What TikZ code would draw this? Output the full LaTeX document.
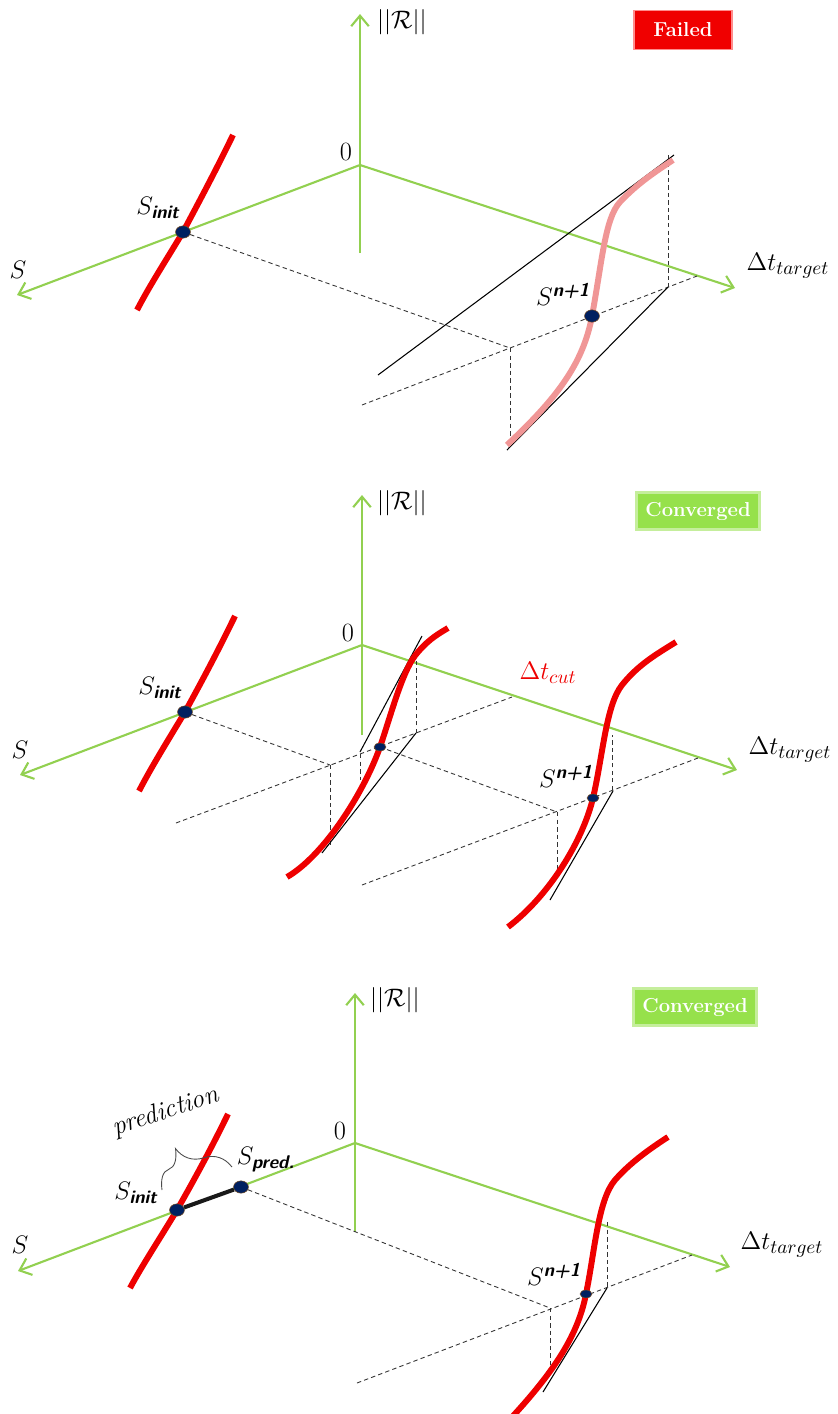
\documentclass[tikz,border=0pt]{standalone}
\usepackage{tikz}
\usetikzlibrary{positioning,shapes.geometric,arrows.meta,decorations.pathreplacing}
\usepackage{amsmath}
\definecolor{axisgreen}{RGB}{146,208,80}
\definecolor{curvered}{RGB}{238,0,0}
\definecolor{curvepink}{RGB}{240,150,150}
\definecolor{dotblue}{RGB}{0,32,96}
\definecolor{failred}{RGB}{240,0,0}
\definecolor{convgreen}{RGB}{150,225,75}

\newcommand{\subtxt}[1]{\text{\sffamily\bfseries\itshape #1}}

\begin{document}
\begin{tikzpicture}[x=0.02cm, y=-0.02cm,
    axis/.style={draw=axisgreen, line width=1.2pt, -{Straight Barb[length=6pt,width=10pt]}},
    curve/.style={draw=curvered, line width=3.4pt},
    dashline/.style={draw=black!80, line width=0.5pt, dash pattern=on 2.5pt off 1.8pt},
    tline/.style={draw=black, line width=0.6pt},
    dot/.style={ellipse, fill=dotblue, draw=brown!60!black, line width=0.3pt, minimum width=8.5pt, minimum height=7pt, inner sep=0pt},
    smalldot/.style={dot, minimum width=6.8pt, minimum height=4.5pt},
    lbl/.style={font=\fontsize{15}{17}\selectfont, inner sep=1pt},
    failbox/.style={fill=failred, draw=red!45, line width=0.8pt, minimum width=56pt, minimum height=22pt, text=white, font=\fontsize{11.5}{13}\selectfont\bfseries},
    convbox/.style={fill=convgreen, draw=convgreen!55, line width=1.6pt, minimum width=70pt, minimum height=21pt, text=white, font=\fontsize{11.5}{13}\selectfont\bfseries}]
    \useasboundingbox (0,0) rectangle (838,1414);

    % ---------- top panel: failed step ----------
    \coordinate (aO) at (360,165);
    \coordinate (aP) at (510,348);
    \coordinate (aQ) at (668,287);
    \draw[axis] (360,253) -- (360,14);
    \draw[axis] (aO) -- (17,295);
    \draw[axis] (aO) -- (735,288);
    \draw[dashline] (183,232) -- (aP);
    \draw[dashline] (362,405) -- (697,276);
    \draw[dashline] (aP) -- (510,445);
    \draw[dashline] (668,155) -- (aQ);
    \draw[tline] (378,375) -- (674,155);
    \draw[tline] (507,450) -- (aQ);
    \draw[curve] (233,135) .. controls (215,172) and (200,200) .. (183,232) .. controls (165,262) and (150,285) .. (137,310);
    \draw[curve, draw=curvepink] (507,445) .. controls (555,400) and (583,365) .. (592,316) .. controls (602,262) and (605,218) .. (620,202) .. controls (638,183) and (655,172) .. (673,160);
    \node[dot] (aInit) at (183,232) {};
    \node[dot] (aNext) at (592,316) {};
    \node[lbl] (aRes) at (402,22) {$||\mathcal{R}||$};
    \node[lbl] (aZero) at (346,152) {0};
    \node[lbl] (aS) at (18,270) {$S$};
    \node[lbl] (aT) at (788,266) {$\Delta t_{target}$};
    \node[lbl] (aInitLab) at (158,208) {$S_{\subtxt{init}}$};
    \node[lbl] (aNextLab) at (563,294) {$S^{\subtxt{n+1}}$};
    \node[failbox] (aState) at (683,30) {Failed};

    % ---------- middle panel: cut step ----------
    \coordinate (bO) at (362,645);
    \coordinate (bP) at (330,765);
    \coordinate (bQ) at (557,812);
    \draw[axis] (362,735) -- (362,495);
    \draw[axis] (bO) -- (20,775);
    \draw[axis] (bO) -- (737,770);
    \draw[dashline] (185,712) -- (bP);
    \draw[dashline] (176,823) -- (512,697);
    \draw[dashline] (380,747) -- (bQ);
    \draw[dashline] (362,885) -- (698,758);
    \draw[dashline] (bP) -- (330,845);
    \draw[dashline] (360,754) -- (360,780);
    \draw[dashline] (416,733) -- (416,660);
    \draw[dashline] (bQ) -- (557,870);
    \draw[dashline] (612,790) -- (612,735);
    \draw[tline] (360,752) -- (422,636);
    \draw[tline] (322,853) -- (416,733);
    \draw[tline] (550,900) -- (613,791);
    \draw[curve] (235,616) .. controls (217,653) and (202,681) .. (185,712) .. controls (167,742) and (152,766) .. (139,791);
    \draw[curve] (287,877) .. controls (325,855) and (365,790) .. (380,747) .. controls (392,712) and (403,668) .. (418,652) .. controls (430,638) and (440,633) .. (448,628);
    \draw[curve] (508,927) .. controls (550,895) and (583,840) .. (593,798) .. controls (603,755) and (606,705) .. (622,685) .. controls (638,665) and (655,655) .. (676,642);
    \node[dot] (bInit) at (185,712) {};
    \node[smalldot] (bCut) at (380,747) {};
    \node[smalldot] (bNext) at (593,798) {};
    \node[lbl] (bRes) at (402,503) {$||\mathcal{R}||$};
    \node[lbl] (bZero) at (348,633) {0};
    \node[lbl] (bS) at (20,750) {$S$};
    \node[lbl] (bT) at (790,750) {$\Delta t_{target}$};
    \node[lbl, text=curvered] (bCutLab) at (548,673) {$\Delta t_{cut}$};
    \node[lbl] (bInitLab) at (160,688) {$S_{\subtxt{init}}$};
    \node[lbl] (bNextLab) at (566,776) {$S^{\subtxt{n+1}}$};
    \node[convbox] (bState) at (698,511) {Converged};

    % ---------- bottom panel: predicted start ----------
    \coordinate (cO) at (355,1143);
    \coordinate (cP) at (550,1308);
    \coordinate (cQ) at (607,1288);
    \draw[axis] (355,1232) -- (355,993);
    \draw[axis] (cO) -- (18,1271);
    \draw[axis] (cO) -- (730,1267);
    \draw[dashline] (241,1187) -- (cP);
    \draw[dashline] (357,1383) -- (692,1255);
    \draw[dashline] (cP) -- (550,1368);
    \draw[dashline] (607,1222) -- (cQ);
    \draw[tline] (543,1392) -- (cQ);
    \draw[curve] (228,1114) .. controls (210,1151) and (194,1180) .. (177,1210) .. controls (159,1240) and (143,1264) .. (130,1288);
    \draw[curve] (513,1416) .. controls (555,1370) and (578,1335) .. (586,1294) .. controls (595,1250) and (598,1200) .. (615,1180) .. controls (630,1163) and (648,1150) .. (668,1137);
    \node[dot] (cInit) at (177,1210) {};
    \node[dot] (cPred) at (241,1187) {};
    \draw[line width=2.3pt, black!90] (cInit) -- (cPred);
    \node[smalldot] (cNext) at (586,1294) {};
    \draw[black!70, line width=0.5pt, decorate, decoration={brace, amplitude=20pt, aspect=0.35}] (162,1190) -- (232,1167);
    \node[lbl, rotate=18] (cPredict) at (166,1112) {\textit{prediction}};
    \node[lbl] (cRes) at (395,1000) {$||\mathcal{R}||$};
    \node[lbl] (cZero) at (340,1131) {0};
    \node[lbl] (cS) at (20,1245) {$S$};
    \node[lbl] (cT) at (782,1245) {$\Delta t_{target}$};
    \node[lbl] (cInitLab) at (136,1193) {$S_{\subtxt{init}}$};
    \node[lbl] (cPredLab) at (266,1160) {$S_{\subtxt{pred.}}$};
    \node[lbl] (cNextLab) at (554,1274) {$S^{\subtxt{n+1}}$};
    \node[convbox] (cState) at (695,1007) {Converged};
\end{tikzpicture}
\end{document}
